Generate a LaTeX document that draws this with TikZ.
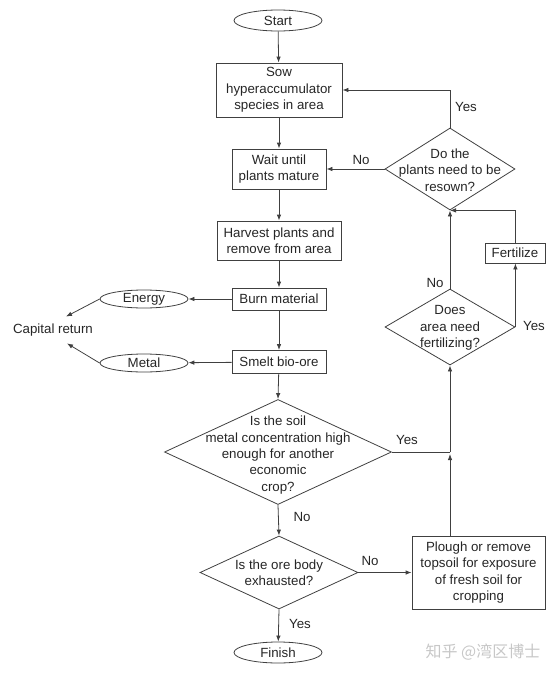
\documentclass[tikz,border=0pt]{standalone}
\usepackage{fontspec}
\setmainfont{Liberation Sans}
\newfontfamily\cjk{Noto Sans CJK SC}
\usetikzlibrary{shapes.geometric,arrows.meta}

\begin{document}
\begin{tikzpicture}[x=1pt,y=-1pt,
  font=\fontsize{13.3}{16.4}\selectfont,
  txt/.style={text=black!85,align=center,inner sep=0pt},
  box/.style={txt,draw=black!75,line width=0.8pt},
  oval/.style={box,ellipse,minimum width=88pt},
  dia/.style={draw=black!75,line width=0.8pt,diamond,inner sep=0pt},
  link/.style={draw=black!75,line width=0.8pt},
  arr/.style={link,-{Latex[length=6pt,width=4.5pt]}}]
\useasboundingbox (0,0) rectangle (558,675);
% main column
\node[oval,minimum height=21pt] (start) at (278,20.5) {Start};
\node[box,minimum width=126pt,minimum height=54pt] (sow) at (279,90) {Sow\\hyperaccumulator\\species in area};
\node[box,minimum width=94pt,minimum height=40pt] (wait) at (279,169) {Wait until\\plants mature};
\node[box,minimum width=124pt,minimum height=39pt] (harvest) at (279,240.5) {Harvest plants and\\remove from area};
\node[box,minimum width=94pt,minimum height=22pt] (burn) at (279,299) {Burn material};
\node[box,minimum width=94pt,minimum height=23pt] (smelt) at (279,362) {Smelt bio-ore};
\node[dia,minimum width=227pt,minimum height=105pt] (soil) at (278,452) {};
\node[txt] (soilT) at (278,455) {Is the soil\\metal concentration high\\enough for another\\economic\\crop?};
\node[dia,minimum width=158pt,minimum height=73pt] (ore) at (279,572.5) {};
\node[txt] (oreT) at (279,573) {Is the ore body\\exhausted?};
\node[oval,minimum height=21pt] (finish) at (278,652.5) {Finish};
% left side
\node[oval,minimum height=18pt] (energy) at (144,299) {Energy};
\node[oval,minimum height=18pt] (metal) at (144,363) {Metal};
\node[txt] (cap) at (53,330) {Capital return};
% right side
\node[box,minimum width=133pt,minimum height=73pt] (plough) at (478.5,572.5) {Plough or remove\\topsoil for exposure\\of fresh soil for\\cropping};
\node[dia,minimum width=130pt,minimum height=76pt] (fert) at (450,327) {};
\node[txt] (fertT) at (450,328) {Does\\area need\\fertilizing?};
\node[box,minimum width=60pt,minimum height=20pt] (fbox) at (515,253) {Fertilize};
\node[dia,minimum width=130pt,minimum height=82pt] (resown) at (450,169) {};
\node[txt] (resownT) at (450,170) {Do the\\plants need to be\\resown?};
\coordinate (j1) at (soil.east -| fert.south);
% connectors
\draw[arr] (start) -- (sow);
\draw[arr] (sow) -- (wait);
\draw[arr] (wait) -- (harvest);
\draw[arr] (harvest) -- (burn);
\draw[arr] (burn) -- (smelt);
\draw[arr] (smelt) -- (soil.north);
\draw[arr] (burn) -- (energy);
\draw[arr] (smelt) -- (metal);
\draw[arr] (energy.west) -- ([xshift=13pt,yshift=7pt]cap.north);
\draw[arr] (metal.west) -- ([xshift=14pt,yshift=-7pt]cap.south);
\draw[arr] (soil.south) -- (ore.north);
\draw[arr] (ore.south) -- (finish);
\draw[arr] (ore.east) -- (plough.west);
\draw[arr] (plough.north -| j1) -- ([yshift=-2pt]j1);
\draw[link] (soil.east) -- (j1);
\draw[arr] (j1) -- (fert.south);
\draw[arr] (fert.north) -- (resown.south);
\draw[arr] (fert.east) -- (fert.east |- fbox.south);
\draw[arr] (fbox.north) |- (resown.south);
\draw[arr] (resown.west) -- (wait.east);
\draw[arr] (resown.north) |- (sow.east);
% branch labels
\node[txt] at (407,440) {Yes};
\node[txt] at (302,517) {No};
\node[txt] at (370,561) {No};
\node[txt] at (300,624) {Yes};
\node[txt] at (435,283) {No};
\node[txt] at (534,326) {Yes};
\node[txt] at (361,160) {No};
\node[txt] at (466,107) {Yes};
% watermark
\node[txt,text=black!22,font=\cjk\fontsize{16}{18}\selectfont] (mark) at (483,652) {知乎 @湾区博士};
\end{tikzpicture}
\end{document}
